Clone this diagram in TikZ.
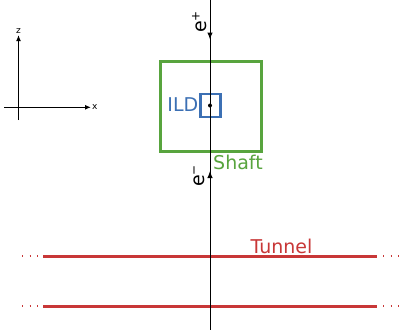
\documentclass[tikz,border=0pt]{standalone}
\usepackage{fontspec}
\setmainfont{DejaVu Sans}
\usetikzlibrary{arrows.meta}
\definecolor{shaftgreen}{RGB}{88,164,62}
\definecolor{ildblue}{RGB}{60,112,180}
\definecolor{tunnelred}{RGB}{200,55,55}
\newcommand{\supfont}{\fontsize{12}{12}\selectfont}
\tikzset{
  bigtext/.style={font=\fontsize{19}{19}\selectfont, inner sep=0pt},
  smalltext/.style={font=\fontsize{9}{9}\selectfont, inner sep=0pt},
  tunnelline/.style={draw=tunnelred, line width=3pt},
  tunneldots/.style={draw=tunnelred, line width=1.2pt, dash pattern=on 1.2pt off 6.3pt},
  axisline/.style={draw=black, line width=1.2pt, -{Latex[length=6pt,width=5pt]}},
  beamarrow/.style={draw=black, line width=1pt, -{Latex[length=7pt,width=5.5pt]}},
}
\begin{document}
\begin{tikzpicture}[x=1pt,y=-1pt]
\useasboundingbox (0,0) rectangle (399,330);
% axes
\coordinate (zs) at (18.5,120);
\coordinate (zt) at (18.5,35);
\coordinate (xs) at (4,107.3);
\coordinate (xt) at (91,107.3);
\draw[axisline] (zs) -- (zt);
\draw[axisline] (xs) -- (xt);
\node[smalltext] (zl) at (18.5,31) {z};
\node[smalltext, anchor=west] (xl) at (92,107.5) {x};
% tunnel
\coordinate (t1l) at (43,256);
\coordinate (t1r) at (377,256);
\coordinate (t2l) at (43,306);
\coordinate (t2r) at (377,306);
\coordinate (d1l) at (22,256);
\coordinate (d1r) at (38.5,256);
\coordinate (d1a) at (383,256);
\coordinate (d1b) at (399,256);
\coordinate (d2l) at (22,306);
\coordinate (d2r) at (38.5,306);
\coordinate (d2a) at (383,306);
\coordinate (d2b) at (399,306);
\draw[tunnelline] (t1l) -- (t1r);
\draw[tunnelline] (t2l) -- (t2r);
\draw[tunneldots] (d1l) -- (d1r);
\draw[tunneldots] (d2l) -- (d2r);
\draw[tunneldots] (d1a) -- (d1b);
\draw[tunneldots] (d2a) -- (d2b);
\node[bigtext, text=tunnelred] (tunnel) at (281.5,246) {Tunnel};
% shaft
\node[draw=shaftgreen, line width=3pt, minimum width=101pt, minimum height=90pt, inner sep=0pt] (shaft) at (210.5,106) {};
\node[bigtext, text=shaftgreen] (shaftl) at (238,162) {Shaft};
% ILD
\node[draw=ildblue, line width=2.8pt, minimum width=20pt, minimum height=23pt, inner sep=0pt] (ild) at (210.3,105.5) {};
\node[bigtext, text=ildblue, anchor=east] (ildl) at (198.5,104.5) {ILD};
% beam line
\coordinate (btop) at (210,0);
\coordinate (bbot) at (210,330);
\draw[black, line width=1pt] (btop) -- (bbot);
\fill (210,105.5) circle (2pt);
\coordinate (ep1) at (210,28);
\coordinate (ep2) at (210,39.5);
\coordinate (em1) at (210,182);
\coordinate (em2) at (210,171);
\draw[beamarrow] (ep1) -- (ep2);
\draw[beamarrow] (em1) -- (em2);
\node[bigtext, rotate=90] (epl) at (199.5,22) {e\raisebox{7pt}{\supfont +}};
\node[bigtext, rotate=90] (eml) at (199.5,176) {e\raisebox{7pt}{\supfont −}};
\end{tikzpicture}
\end{document}
